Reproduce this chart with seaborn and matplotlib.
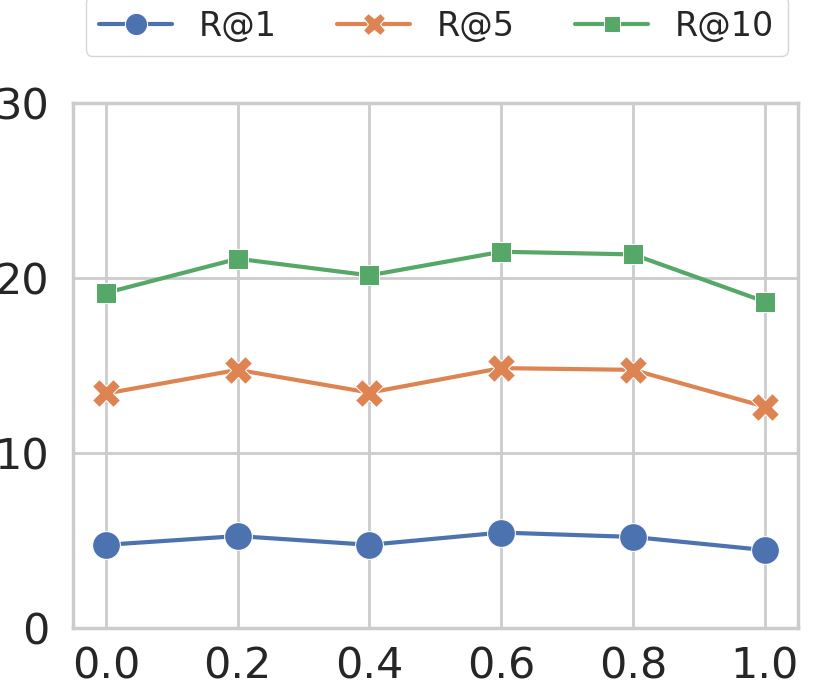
import pandas as pd
import seaborn as sns
import matplotlib.pyplot as plt

# values
x_vals = [0.0, 0.2, 0.4, 0.6, 0.8, 1.0]
r_at_1 = [4.75, 5.25, 4.75, 5.45, 5.2, 4.45]
r_at_5 = [13.4, 14.75, 13.45, 14.85, 14.75, 12.65]
r_at_10 = [19.15, 21.1, 20.15, 21.5, 21.35, 18.65]
series_names = ['R@1', 'R@5', 'R@10']
y_ticks = [0, 10, 20, 30]
x_ticks = [0.0, 0.2, 0.4, 0.6, 0.8, 1.0]

rows = []
for name, vals in zip(series_names, [r_at_1, r_at_5, r_at_10]):
    for xv, yv in zip(x_vals, vals):
        rows.append({'x': xv, 'value': yv, 'metric': name})
df = pd.DataFrame(rows)

sns.set_theme(style="whitegrid")
plt.rcParams['font.family'] = ['DejaVu Sans']

fig = plt.figure(figsize=(8.3, 6.87), dpi=100)
ax = fig.add_axes([0.088, 0.086, 0.873, 0.764])

# seaborn default markers: circle, X, rotated square
sns.lineplot(data=df, x='x', y='value', hue='metric', style='metric',
             markers=True, dashes=False, linewidth=3, markersize=20,
             ax=ax, legend=True)

ax.set_ylim(0, 30)
ax.set_yticks(y_ticks)
ax.set_xticks(x_ticks)
ax.set_xticklabels([f'{t:.1f}' for t in x_ticks])
ax.set_xlabel('')
ax.set_ylabel('')
ax.tick_params(axis='both', labelsize=31)
ax.tick_params(axis='x', pad=7)
ax.tick_params(axis='y', pad=11)
for s in ax.spines.values():
    s.set_linewidth(2.5)
    s.set_color('#cccccc')
ax.grid(True, linewidth=2, color='#cccccc')

handles, labels = ax.get_legend_handles_labels()
ax.get_legend().remove()
fig.legend(handles, labels, loc='center', bbox_to_anchor=(0.526, 0.962),
           ncol=3, fontsize=24, frameon=True, markerscale=0.8,
           handlelength=2.2, columnspacing=1.8)

fig.savefig('out.png', dpi=100)
